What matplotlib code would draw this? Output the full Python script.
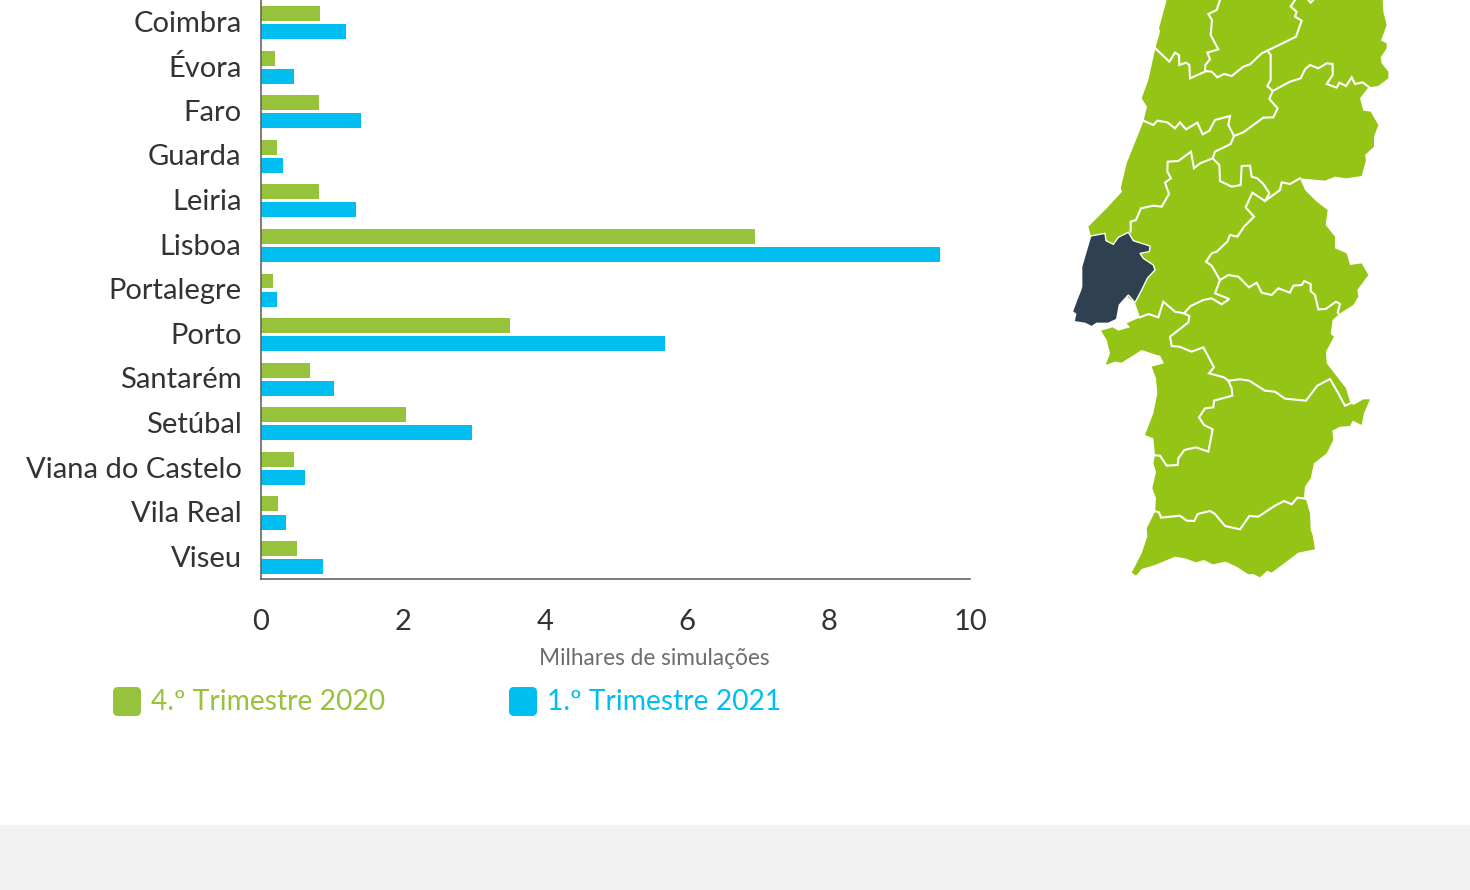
import matplotlib
matplotlib.use("Agg")
import matplotlib.pyplot as plt
from matplotlib.patches import FancyBboxPatch, Polygon, Rectangle
from matplotlib.transforms import ScaledTranslation

plt.rcParams['font.family'] = ['Lato', 'DejaVu Sans']

districts = ["Coimbra", "Évora", "Faro", "Guarda", "Leiria", "Lisboa", "Portalegre",
             "Porto", "Santarém", "Setúbal", "Viana do Castelo", "Vila Real", "Viseu"]
q4_2020 = [0.83, 0.20, 0.82, 0.23, 0.82, 6.96, 0.17, 3.51, 0.69, 2.04, 0.46, 0.24, 0.51]
q1_2021 = [1.20, 0.46, 1.41, 0.31, 1.34, 9.56, 0.23, 5.69, 1.03, 2.97, 0.62, 0.35, 0.87]
x_ticks = [0, 2, 4, 6, 8, 10]
series_names = ["4.º Trimestre 2020", "1.º Trimestre 2021"]
x_title = "Milhares de simulações"

GREEN, BLUE, MAPG, DARK = "#97c23c", "#00bff0", "#94c516", "#2f4050"
W, H = 1470, 890
fig = plt.figure(figsize=(W / 100, H / 100), dpi=100, facecolor="white")

# full-figure pixel layer
bg = fig.add_axes([0, 0, 1, 1], zorder=0)
bg.set_xlim(0, W); bg.set_ylim(H, 0); bg.axis("off")
bg.add_patch(Rectangle((0, 825), W, 65, fc="#f2f2f2", ec="none"))

# bars
ax = fig.add_axes([261 / W, 1 - 579.1 / H, 710 / W, 579.7 / H], zorder=2)
ax.patch.set_alpha(0)
y = list(range(len(districts)))
ax.barh([i - 0.185 for i in y], q4_2020, height=0.336, color=GREEN)
ax.barh([i + 0.22 for i in y], q1_2021, height=0.336, color=BLUE)
ax.set_ylim(12.5, -0.5); ax.set_xlim(0, 10)
ax.set_yticks(y, districts); ax.set_xticks(x_ticks)
ax.tick_params(axis="y", length=0, labelsize=21, labelcolor="#333333", pad=14)
ax.tick_params(axis="x", length=0, labelsize=21, labelcolor="#333333", pad=21.5)
up = ScaledTranslation(0, 0.4 / 72, fig.dpi_scale_trans)
for lab in ax.get_yticklabels():
    lab.set_transform(lab.get_transform() + up)
for s in ("top", "right"):
    ax.spines[s].set_visible(False)
for s in ("left", "bottom"):
    ax.spines[s].set_color("#666666"); ax.spines[s].set_linewidth(1.2)
ax.spines["bottom"].set_bounds(0, 9.985)

bg.text(654, 658.5, x_title, ha="center", va="center", fontsize=16.3, color="#6d6d6d")
for x0, col, name in ((113, GREEN, series_names[0]), (509, BLUE, series_names[1])):
    bg.add_patch(FancyBboxPatch((x0 + 4, 691), 20, 21, boxstyle="round,pad=4,rounding_size=5",
                                fc=col, ec="none"))
    bg.text(x0 + 38, 702.5, name, ha="left", va="center", fontsize=20.3, color=col)

# map (traced from the two zoomed views: z1 x/3+1060, y/3; z2 x/3+1060, y/3+290)
def z1(p): return [(a / 3 + 1060, b / 3) for a, b in p]
def z2(p): return [(a / 3 + 1060, b / 3 + 290) for a, b in p]

outline = z1([(320,0),(297,85),(300,95),(286,145),(265,240),(245,295),(261,320),(250,365),(200,490),(182,565),
 (186,575),(140,625),(85,680),(92,706),(92,760),(130,840)]) + z2([(225,38),(240,82),(200,100),(210,112),(175,122),
 (158,112),(123,122),(140,150),(150,190),(137,225),(165,215),(185,218),(245,180),(290,195),(300,197),(312,220),
 (275,230),(288,265),(292,310),(280,370),(255,435),(280,445),(285,495),(280,520),(288,545),(277,595),(288,625),
 (285,665),(260,715),(262,740),(245,790),(215,848),(228,857),(245,837),(285,825),(345,800),(375,805),(408,817),
 (432,810),(458,823),(497,815),(530,830),(565,853),(580,852),(600,862),(622,842),(635,848),(715,788),(765,778),
 (758,735),(752,720),(750,670),(738,628),(732,620),(735,590),(752,565),(762,520),(800,490),(820,450),(817,422),
 (840,410),(870,408),(878,392),(905,405),(912,370),(930,328),(910,328),(880,345),(870,335),(858,295),(800,220),
 (798,185),(822,140),(812,132),(818,90),(840,70),(880,45),(895,20),(892,0)]) + z1([(925,825),(905,790),(870,795),
 (860,760),(825,745),(825,710),(797,675),(803,630),(770,605),(735,570),(720,535),(795,542),(825,530),(860,535),
 (905,528),(918,480),(915,465),(942,440),(942,410),(955,375),(932,335),(910,332),(900,295),(925,262),(955,258),
 (985,235),(985,215),(965,190),(962,172),(980,145),(980,130),(963,122),(980,75),(970,35),(968,0)])
lisboa = z1([(92,708),(135,700),(138,722),(160,733),(175,712),(205,697),(220,722),(270,738),(268,755),(240,760),
 (250,775),(280,795),(285,810),(262,835),(245,870)]) + z2([(245,0),(225,38),(205,15),(178,45),(170,88),(145,100),
 (110,100),(95,110),(75,100),(42,95),(47,72),(37,65),(50,30),(62,0)]) + z1([(65,860),(65,800)])

borders = [
 z1([(480,0),(470,30),(445,42),(456,60),(452,105),(475,148),(442,158),(450,178),(436,195),(435,215),(390,235),
     (388,195),(378,188),(358,195),(357,165),(345,158),(328,185),(286,145)]),
 z1([(435,213),(455,215),(472,232),(492,222),(515,228),(550,200),(570,193),(605,160),(622,152),(708,110),(725,62),
     (705,50),(710,35),(692,20),(705,0)]),
 z1([(745,0),(752,8),(760,0)]),
 z1([(622,152),(632,165),(632,240),(622,258),(638,273),(690,245),(722,235),(735,208),(750,195),(775,205),(800,190),
     (818,192),(818,225),(800,252),(830,263),(838,248),(858,258),(875,232),(885,252),(908,247),(928,262)]),
 z1([(638,273),(628,297),(653,325),(640,352),(610,353),(550,397),(522,408),(505,375),(510,348),(465,360),(448,392),
     (428,403),(412,368),(378,388),(360,367),(345,385),(322,367),(292,362),(280,375),(250,362)]),
 z1([(522,408),(512,432),(465,455),(458,475),(478,495),(480,543),(515,560),(542,555),(545,498),(570,497),(575,530),
     (592,535),(610,552),(628,580),(615,603)]),
 z1([(458,475),(420,490),(402,505),(393,455),(355,483),(323,485),(322,515),(333,535),(315,548),(327,582),(305,620),
     (280,617),(243,625),(228,660),(212,665),(212,695)]),
 z1([(720,535),(690,552),(665,547),(660,570),(615,603),(577,578),(557,622),(582,650),(552,680),(532,710),(510,705),
     (502,725),(470,755),(455,760),(438,785),(455,797),(480,840),(505,825),(535,830),(567,862),(590,848),(605,878),
     (635,885),(655,865),(690,878),(700,857),(725,855),(733,843),(752,852),(752,873),(765,885)])
 + z2([(775,58),(797,57),(828,35),(840,42),(833,68),(840,75)]),
 z1([(480,840),(465,880)]) + z2([(508,27),(485,43),(455,25),(430,30),(392,48),(372,70),(388,78),(385,97),(330,140),
     (335,168),(358,170),(395,185),(430,172),(462,232),(447,250),(492,262),(505,272),(515,295),(517,317),(462,332),
     (460,352),(435,355),(417,382),(432,405),(458,418),(445,485),(408,472),(373,480),(355,505),(353,525),(320,527),
     (300,497),(283,496)]),
 z2([(240,82),(265,72),(295,82),(310,35),(345,65),(372,70)]),
 z2([(505,272),(540,268),(568,272),(615,302),(645,305),(675,326),(738,332),(772,287),(810,267),(835,310),(855,347),(878,337)]),
 z2([(283,663),(297,667),(303,683),(360,677),(380,692),(403,693),(413,672),(450,663),(465,672),(495,708),(540,718),
     (568,678),(595,680),(645,647),(672,633),(695,643),(712,623),(738,626)]),
]
bg.add_patch(Polygon(outline, closed=True, fc=MAPG, ec="none"))
for b in borders:
    bg.plot(*zip(*b), color="white", lw=1.5, solid_joinstyle="miter")
bg.add_patch(Polygon(lisboa, closed=True, fc=DARK, ec="white", lw=1.0, zorder=3))

fig.savefig("out.png", dpi=100)
